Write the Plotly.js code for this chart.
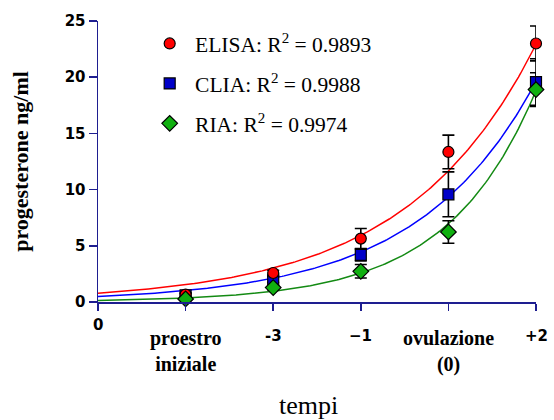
<!DOCTYPE html>
<html>
<head>
<meta charset="utf-8">
<script src="https://cdn.plot.ly/plotly-3.0.1.min.js"></script>
<style>
  html, body { margin: 0; padding: 0; background: #ffffff; }
  #chart { width: 554px; height: 420px; }
</style>
</head>
<body>
<div id="chart"></div>
<script>
// Time points (x positions 0..5) and their labels
const timeIndex = [1, 2, 3, 4, 5];
const tickPositions = [0, 1, 2, 3, 4, 5];
const tickLabels = ['0', 'proestro<br>iniziale', '-3', '\u22121', 'ovulazione<br>(0)', '+2'];
const tickIsWord = [false, true, false, false, true, false];

// Mean progesterone (ng/ml) and error per assay
const elisaMean = [0.66, 2.58, 5.64, 13.35, 23.0];
const elisaErr  = [0.15, 0.25, 0.9, 1.5, 1.55];
const cliaMean  = [0.6, 1.99, 4.2, 9.58, 19.57];
const cliaErr   = [0.15, 0.25, 0.55, 2.0, 2.07];
const riaMean   = [0.27, 1.28, 2.73, 6.23, 18.9];
const riaErr    = [0.1, 0.2, 0.6, 1.0, 1.5];

// Exponential fits y = a * exp(b * x)
const fitNames = ['ELISA', 'CLIA', 'RIA'];
const fitA = [0.78, 0.48, 0.13];
const fitB = [0.676, 0.742, 0.995];
const fitR2 = ['0.9893', '0.9988', '0.9974'];

const lineColors = ['#ff0000', '#0000ff', '#138a13'];
const fillColors = ['#ff0000', '#0000c8', '#10b010'];
const symbols = ['circle', 'square', 'diamond'];

function curve(i) {
  const xs = [], ys = [];
  const n = 200;
  for (let k = 0; k <= n; k++) {
    const x = 5 * k / n;
    xs.push(x);
    ys.push(fitA[i] * Math.exp(fitB[i] * x));
  }
  return { xs, ys };
}

const traces = [];
// fitted curves
for (let i = 0; i < 3; i++) {
  const c = curve(i);
  traces.push({
    x: c.xs, y: c.ys, mode: 'lines', type: 'scatter',
    line: { color: lineColors[i], width: 1.5 },
    showlegend: false, hoverinfo: 'skip', cliponaxis: false
  });
}

const means = [elisaMean, cliaMean, riaMean];
const errs = [elisaErr, cliaErr, riaErr];
// draw order: CLIA, ELISA, RIA
const order = [1, 0, 2];
const legendRank = { 0: 1, 1: 2, 2: 3 };
order.forEach(i => {
  traces.push({
    x: timeIndex, y: means[i], type: 'scatter', mode: 'markers',
    name: '\u00a0' + fitNames[i] + ': R<sup>2</sup> = ' + fitR2[i],
    legendgroup: fitNames[i], legendrank: legendRank[i],
    marker: { symbol: symbols[i], size: i === 2 ? 12 : 11, color: fillColors[i],
              line: { color: '#000000', width: 1.2 } },
    error_y: { type: 'data', array: errs[i], visible: true,
               color: '#000000', thickness: 1.6, width: 6 },
    cliponaxis: false
  });
});

const axisColor = '#1e1e90';

const annotations = tickPositions.map((p, k) => ({
  x: p, xref: 'x', y: 0, yref: 'paper',
  text: tickLabels[k], showarrow: false,
  xanchor: 'center', yanchor: 'top',
  yshift: tickIsWord[k] ? -23 : (p === 0 ? -12 : -23),
  align: 'center',
  font: tickIsWord[k]
    ? { family: 'Liberation Serif, Times New Roman, serif', size: 20, color: '#000', weight: 'bold' }
    : { family: 'DejaVu Sans, sans-serif', size: 15, color: '#000', weight: 'bold' }
}));
annotations.push({
  x: 0.48, xref: 'paper', y: 0, yref: 'paper',
  text: 'tempi', showarrow: false, xanchor: 'center', yanchor: 'top',
  yshift: -87,
  font: { family: 'Liberation Serif, Times New Roman, serif', size: 26, color: '#000' }
});

const layout = {
  width: 554, height: 420,
  margin: { l: 98, r: 18, t: 21, b: 118 },
  paper_bgcolor: '#ffffff', plot_bgcolor: '#ffffff',
  showlegend: true,
  legend: {
    x: 0.118, y: 0.993, xanchor: 'left', yanchor: 'top',
    bgcolor: 'rgba(0,0,0,0)', borderwidth: 0,
    tracegroupgap: 9,
    font: { family: 'Liberation Serif, Times New Roman, serif', size: 21.5, color: '#000' }
  },
  xaxis: {
    range: [0, 5], showgrid: false, zeroline: false,
    showline: true, linecolor: axisColor, linewidth: 1.5,
    ticks: 'outside', ticklen: 7, tickwidth: 1.5, tickcolor: axisColor,
    tickvals: tickPositions, showticklabels: false
  },
  yaxis: {
    range: [0, 25], showgrid: false, zeroline: false,
    showline: true, linecolor: axisColor, linewidth: 1.5,
    ticks: 'outside', ticklen: 8, tickwidth: 1.5, tickcolor: axisColor,
    tickvals: [0, 5, 10, 15, 20, 25],
    tickfont: { family: 'DejaVu Sans, sans-serif', size: 15, color: '#000', weight: 'bold' },
    title: {
      text: 'progesterone ng/ml', standoff: 30,
      font: { family: 'Liberation Serif, Times New Roman, serif', size: 22, color: '#000', weight: 'bold' }
    }
  },
  annotations: annotations
};

Plotly.newPlot('chart', traces, layout, { displayModeBar: false, staticPlot: true });
</script>
</body>
</html>
